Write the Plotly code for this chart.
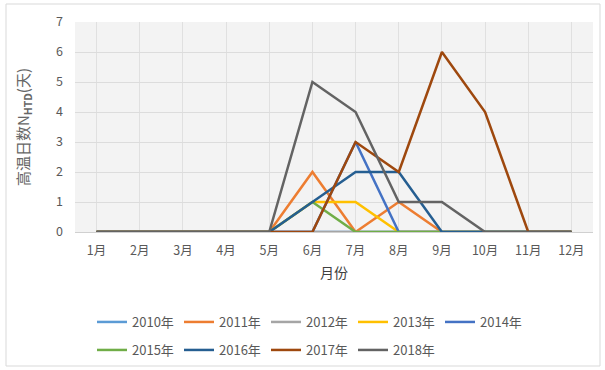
import plotly.graph_objects as go

months = ["1月", "2月", "3月", "4月", "5月", "6月", "7月", "8月", "9月", "10月", "11月", "12月"]
years = ["2010年", "2011年", "2012年", "2013年", "2014年", "2015年", "2016年", "2017年", "2018年"]
v2010 = [0, 0, 0, 0, 0, 0, 0, 0, 0, 0, 0, 0]
v2011 = [0, 0, 0, 0, 0, 2, 0, 1, 0, 0, 0, 0]
v2012 = [0, 0, 0, 0, 0, 0, 0, 0, 0, 0, 0, 0]
v2013 = [0, 0, 0, 0, 0, 1, 1, 0, 0, 0, 0, 0]
v2014 = [0, 0, 0, 0, 0, 0, 3, 0, 0, 0, 0, 0]
v2015 = [0, 0, 0, 0, 0, 1, 0, 0, 0, 0, 0, 0]
v2016 = [0, 0, 0, 0, 0, 1, 2, 2, 0, 0, 0, 0]
v2017 = [0, 0, 0, 0, 0, 0, 3, 2, 6, 4, 0, 0]
v2018 = [0, 0, 0, 0, 0, 5, 4, 1, 1, 0, 0, 0]
values = [v2010, v2011, v2012, v2013, v2014, v2015, v2016, v2017, v2018]
colors = ["#5B9BD5", "#ED7D31", "#A5A5A5", "#FFC000", "#4472C4",
          "#70AD47", "#255E91", "#9E480E", "#636363"]

FONT = "Noto Sans CJK SC"
W, H = 605, 370
L, R, T, B = 75, 12, 22, 138
pw, ph = W - L - R, H - T - B

fig = go.Figure()
for i, (name, vals, c) in enumerate(zip(years, values, colors)):
    fig.add_trace(go.Scatter(
        x=months, y=vals, name=name, mode="lines",
        line=dict(color=c, width=2.5),
        legend="legend" if i < 5 else "legend2",
    ))

def px2paper_x(px):
    return (px - L) / pw

def px2paper_y(py):
    return (H - B - py) / ph

legend_common = dict(
    orientation="h", xanchor="left", yanchor="middle",
    xref="container", yref="container",
    font=dict(family=FONT, size=13, color="#595959"),
    entrywidth=42, entrywidthmode="pixels",
    bgcolor="rgba(0,0,0,0)", itemwidth=30,
)

fig.update_layout(
    width=W, height=H,
    margin=dict(l=L, r=R, t=T, b=B),
    paper_bgcolor="white",
    plot_bgcolor="#f3f3f3",
    font=dict(family=FONT, color="#595959"),
    showlegend=True,
    legend=dict(x=92 / W, y=1 - 322 / H, **legend_common),
    legend2=dict(x=92 / W, y=1 - 350 / H, **legend_common),
    xaxis=dict(
        type="category", range=[-0.5, 11.5], automargin=False,
        showgrid=True, gridcolor="#e0e0e0", gridwidth=1,
        showline=True, linecolor="#d0d0d0", linewidth=1,
        ticks="", ticklabelstandoff=7,
        tickfont=dict(family=FONT, size=12.5, color="#595959"),
        title=dict(text="月份", font=dict(family=FONT, size=14, color="#404040"), standoff=10),
        zeroline=False,
    ),
    yaxis=dict(
        range=[0, 7], dtick=1, automargin=False,
        showgrid=True, gridcolor="#dcdcdc", gridwidth=1,
        showline=False, zeroline=False, ticks="", ticklabelstandoff=11,
        tickfont=dict(family=FONT, size=12.5, color="#595959"),
        title=dict(text="高温日数N<sub><b>HTD</b></sub>(天)",
                   font=dict(family=FONT, size=15, color="#666666"), standoff=22),
    ),
    shapes=[dict(
        type="rect", xref="paper", yref="paper",
        x0=px2paper_x(6), x1=px2paper_x(600),
        y0=px2paper_y(366), y1=px2paper_y(4),
        line=dict(color="#d9d9d9", width=1), fillcolor="rgba(0,0,0,0)", layer="below",
    )],
)

fig.write_html("out.html")
